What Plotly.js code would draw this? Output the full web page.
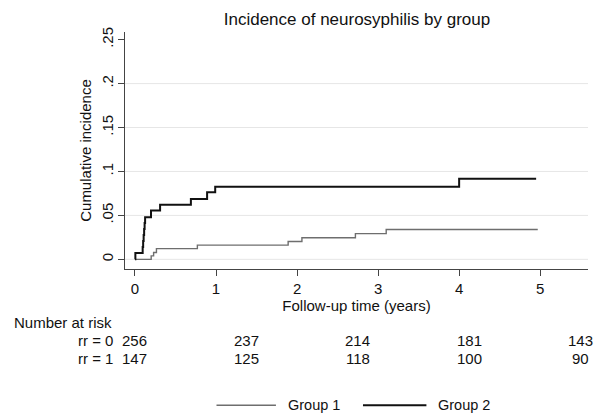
<!DOCTYPE html>
<html>
<head>
<meta charset="utf-8">
<script src="https://cdn.plot.ly/plotly-3.0.1.min.js"></script>
<style>html,body{margin:0;padding:0;background:#fff;}#chart{width:594px;height:417px;}</style>
</head>
<body>
<div id="chart"></div>
<script>
// Group 1 (rr = 0) cumulative incidence steps
var group1Time = [0, 0.2, 0.23, 0.265, 0.77, 1.89, 2.06, 2.72, 3.1, 4.97];
var group1Inc  = [0, 0.0039, 0.0078, 0.0122, 0.0162, 0.0203, 0.0245, 0.0293, 0.0340, 0.0340];
// Group 2 (rr = 1) cumulative incidence steps
var group2Time = [0, 0.005, 0.095, 0.101, 0.107, 0.113, 0.119, 0.125, 0.198, 0.31, 0.69, 0.89, 0.99, 4.0, 4.95];
var group2Inc  = [0, 0.0073, 0.0141, 0.0209, 0.0277, 0.0345, 0.0413, 0.048, 0.0555, 0.062, 0.0688, 0.0763, 0.0825, 0.0916, 0.0916];

var xTickVals = [0, 1, 2, 3, 4, 5];
var yTickVals = [0, 0.05, 0.1, 0.15, 0.2, 0.25];
var yTickText = ["0", ".05", ".1", ".15", ".2", ".25"];
var gridVals = [0, 0.05, 0.1, 0.15, 0.2];

var riskTimes = [0, 1.375, 2.75, 4.125, 5.5];
var riskLabels = ["rr = 0", "rr = 1"];
var riskRR0 = [256, 237, 214, 181, 143];
var riskRR1 = [147, 125, 118, 100, 90];
var legendNames = ["Group 1", "Group 2"];

var FONT = "Liberation Sans, Arial, Helvetica, sans-serif";
var FS = 15;
var c1 = "#6e6e6e", c2 = "#111111";

var traces = [
  {x: group1Time, y: group1Inc, mode: "lines", line: {shape: "hv", color: c1, width: 1.4}, name: legendNames[0], showlegend: false},
  {x: group2Time, y: group2Inc, mode: "lines", line: {shape: "hv", color: c2, width: 2}, name: legendNames[1], showlegend: false}
];

var shapes = gridVals.map(function(v){
  return {type: "line", xref: "paper", yref: "y", x0: 0, x1: 1, y0: v, y1: v, line: {color: "#e6e6e6", width: 1}, layer: "below"};
});

var annotations = [];
annotations.push({xref: "paper", yref: "paper", x: -0.243, y: -0.227, xanchor: "left", yanchor: "middle", text: "Number at risk", showarrow: false, font: {family: FONT, size: FS, color: "#111"}});
var rowY = [-0.302, -0.378];
var rows = [riskRR0, riskRR1];
riskLabels.forEach(function(lbl, i){
  annotations.push({xref: "paper", yref: "paper", x: -0.022, y: rowY[i], xanchor: "right", yanchor: "middle", text: lbl, showarrow: false, font: {family: FONT, size: FS, color: "#111"}});
  rows[i].forEach(function(n, j){
    annotations.push({xref: "x", yref: "paper", x: riskTimes[j], y: rowY[i], xanchor: "center", yanchor: "middle", text: String(n), showarrow: false, font: {family: FONT, size: FS, color: "#111"}});
  });
});

// custom legend
var legY = -0.575;
var legItems = [
  {x0: 0.1976, x1: 0.326, color: c1, width: 1.4, tx: 0.348},
  {x0: 0.514, x1: 0.651, color: c2, width: 2, tx: 0.671}
];
legItems.forEach(function(it, i){
  shapes.push({type: "line", xref: "paper", yref: "paper", x0: it.x0, x1: it.x1, y0: legY, y1: legY, line: {color: it.color, width: it.width}});
  annotations.push({xref: "paper", yref: "paper", x: it.tx, y: legY, xanchor: "left", yanchor: "middle", text: legendNames[i], showarrow: false, font: {family: FONT, size: 14.5, color: "#111"}});
});

var layout = {
  width: 594, height: 417,
  margin: {l: 125, r: 6, t: 32, b: 148, pad: 0},
  paper_bgcolor: "#fff", plot_bgcolor: "#fff",
  font: {family: FONT, size: FS, color: "#111"},
  title: {text: "Incidence of neurosyphilis by group", font: {family: FONT, size: 17, color: "#111"}, x: 0.601, xanchor: "center", y: 0.955, yanchor: "middle"},
  showlegend: false,
  xaxis: {
    range: [-0.123, 5.59], tickvals: xTickVals, ticks: "outside", ticklen: 6, tickcolor: "#444", tickwidth: 1,
    showline: true, linecolor: "#444", linewidth: 1, showgrid: false, zeroline: false,
    tickfont: {family: FONT, size: FS, color: "#111"},
    title: {text: "Follow-up time (years)", font: {family: FONT, size: FS, color: "#111"}, standoff: 0}
  },
  yaxis: {
    range: [-0.011, 0.2587], tickvals: yTickVals, ticktext: yTickText, tickangle: -90, ticks: "outside", ticklen: 6, tickcolor: "#444", tickwidth: 1,
    ticklabelstandoff: -1,
    showline: true, linecolor: "#444", linewidth: 1, showgrid: false, zeroline: false,
    tickfont: {family: FONT, size: FS, color: "#111"},
    title: {text: "Cumulative incidence", font: {family: FONT, size: FS, color: "#111"}, standoff: 3}
  },
  shapes: shapes,
  annotations: annotations
};

Plotly.newPlot("chart", traces, layout, {displayModeBar: false, staticPlot: true});
</script>
</body>
</html>
